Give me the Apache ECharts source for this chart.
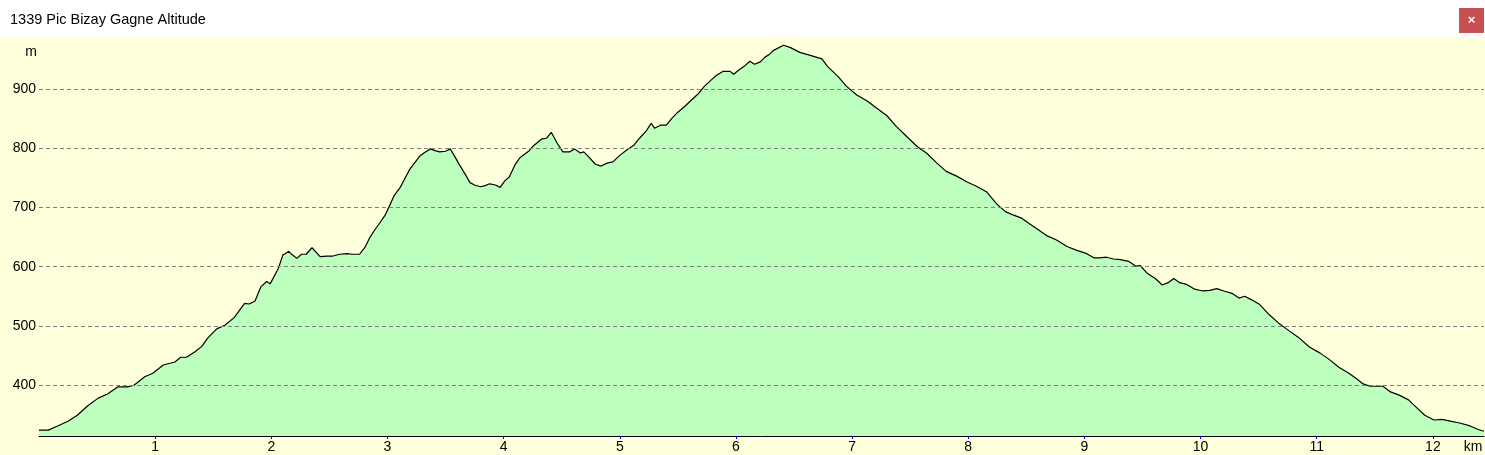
<!DOCTYPE html>
<html>
<head>
<meta charset="utf-8">
<script src="https://cdn.jsdelivr.net/npm/echarts@6/dist/echarts.min.js"></script>
<style>
html,body{margin:0;padding:0;background:#FFFFDC;}
#chart{width:1485px;height:455px;}
</style>
</head>
<body>
<div id="chart"></div>
<script>
const titleText = "1339 Pic Bizay Gagne Altitude";
const yUnit = "m";
const xUnit = "km";
const xTicks = [1,2,3,4,5,6,7,8,9,10,11,12];
const yTicks = [400,500,600,700,800,900];

const distKm = [0.00,0.08,0.16,0.25,0.33,0.42,0.51,0.59,0.68,0.76,0.82,0.91,0.98,1.07,1.17,1.22,1.27,1.34,1.40,1.45,1.53,1.60,1.68,1.77,1.81,1.86,1.91,1.96,1.99,2.06,2.10,2.12,2.15,2.17,2.22,2.26,2.30,2.35,2.42,2.48,2.53,2.59,2.65,2.70,2.76,2.81,2.85,2.89,2.93,2.98,3.02,3.06,3.11,3.15,3.19,3.24,3.28,3.32,3.37,3.41,3.45,3.50,3.54,3.58,3.62,3.67,3.71,3.75,3.80,3.84,3.88,3.93,3.97,4.01,4.05,4.10,4.14,4.18,4.22,4.25,4.33,4.37,4.41,4.46,4.51,4.57,4.61,4.66,4.69,4.73,4.79,4.84,4.89,4.94,5.00,5.06,5.12,5.17,5.23,5.27,5.30,5.35,5.40,5.45,5.50,5.56,5.62,5.68,5.73,5.79,5.83,5.89,5.95,5.98,6.03,6.08,6.12,6.16,6.21,6.25,6.29,6.32,6.41,6.47,6.55,6.64,6.74,6.79,6.88,6.95,7.04,7.13,7.21,7.30,7.38,7.47,7.56,7.64,7.73,7.81,7.90,7.99,8.07,8.16,8.25,8.32,8.39,8.46,8.53,8.60,8.68,8.76,8.85,8.93,9.02,9.08,9.13,9.19,9.25,9.31,9.38,9.44,9.48,9.54,9.61,9.67,9.72,9.77,9.82,9.88,9.95,10.02,10.08,10.14,10.20,10.27,10.33,10.38,10.44,10.51,10.58,10.67,10.76,10.84,10.94,11.03,11.11,11.19,11.27,11.34,11.40,11.46,11.57,11.63,11.71,11.79,11.86,11.93,12.01,12.08,12.15,12.23,12.32,12.39,12.44];

const altitudeM = [324,324,331,339,349,365,378,385,397,397,400,414,420,434,439,447,447,456,465,479,495,501,514,538,537,542,566,575,571,597,620,622,626,622,614,621,621,632,617,618,618,621,622,621,621,634,650,662,673,687,704,721,734,749,764,777,787,793,799,796,794,795,799,786,772,756,742,738,735,737,740,738,734,745,752,773,784,790,796,803,816,817,827,809,794,794,799,792,794,786,773,770,775,777,788,797,805,817,830,842,834,839,839,851,861,871,882,893,905,916,923,930,930,925,933,940,947,942,946,954,959,965,974,970,962,957,951,938,921,905,890,880,868,855,837,820,803,792,775,761,753,743,736,726,705,693,687,682,672,663,652,645,634,628,622,615,615,616,613,612,609,601,602,589,580,569,573,580,573,570,562,559,560,563,559,555,547,550,544,536,521,505,492,481,464,454,443,430,421,411,402,398,398,389,383,375,362,349,341,342,339,336,331,325,322];

const seriesData = distKm.map((d, i) => [d, altitudeM[i]]);

const chart = echarts.init(document.getElementById('chart'), null, {renderer: 'canvas'});
const FONT = 'Liberation Sans, Arial, sans-serif';

chart.setOption({
  animation: false,
  backgroundColor: '#FFFFDC',
  grid: {left: 39, right: 1, top: 37, bottom: 19, containLabel: false},
  xAxis: {
    type: 'value',
    min: 0,
    max: distKm[distKm.length - 1],
    interval: 1,
    axisLine: {show: true, lineStyle: {color: '#000', width: 1}},
    axisTick: {show: true, length: 3, customValues: xTicks, lineStyle: {color: '#0000FF', width: 1}},
    axisLabel: {
      show: true, customValues: xTicks, margin: 4, fontSize: 14, color: '#000', fontFamily: FONT,
      formatter: v => (Number.isInteger(v) && v > 0) ? String(v) : ''
    },
    splitLine: {show: false}
  },
  yAxis: {
    type: 'value',
    min: 314,
    max: 988,
    axisLine: {show: false},
    axisTick: {show: false},
    axisLabel: {show: true, customValues: yTicks, margin: 3, fontSize: 14, color: '#000', fontFamily: FONT,
      formatter: v => (yTicks.indexOf(v) >= 0) ? String(v) : ''},
    splitLine: {show: false}
  },
  series: [{
    type: 'line',
    data: seriesData,
    showSymbol: false,
    symbol: 'none',
    lineStyle: {color: '#000', width: 1.2},
    areaStyle: {color: '#BDFFBD', opacity: 1, origin: 'start'},
    z: 2,
    markLine: {
      silent: true,
      symbol: ['none', 'none'],
      label: {show: false},
      lineStyle: {color: '#7F7F7F', type: [4, 3], width: 1},
      data: yTicks.map(v => ({yAxis: v}))
    }
  }],
  graphic: [
    {type: 'rect', left: 0, top: 0, shape: {width: 1485, height: 37}, style: {fill: '#FFFFFF'}, z: 10},
    {type: 'text', left: 10, top: 12, style: {text: titleText, font: '14.5px ' + FONT, fill: '#000'}, z: 11},
    {type: 'rect', left: 1459, top: 8, shape: {width: 25, height: 25}, style: {fill: '#C75050'}, z: 11},
    {type: 'text', x: 1471.5, y: 20.5, style: {text: '×', font: 'bold 13px ' + FONT, fill: '#FFFFFF', align: 'center', verticalAlign: 'middle'}, z: 12},
    {type: 'text', x: 31, y: 52, style: {text: yUnit, font: '14px ' + FONT, fill: '#000', align: 'center', verticalAlign: 'middle'}, z: 11},
    {type: 'text', x: 1473, y: 447, style: {text: xUnit, font: '14px ' + FONT, fill: '#000', align: 'center', verticalAlign: 'middle'}, z: 11}
  ]
});
</script>
</body>
</html>
